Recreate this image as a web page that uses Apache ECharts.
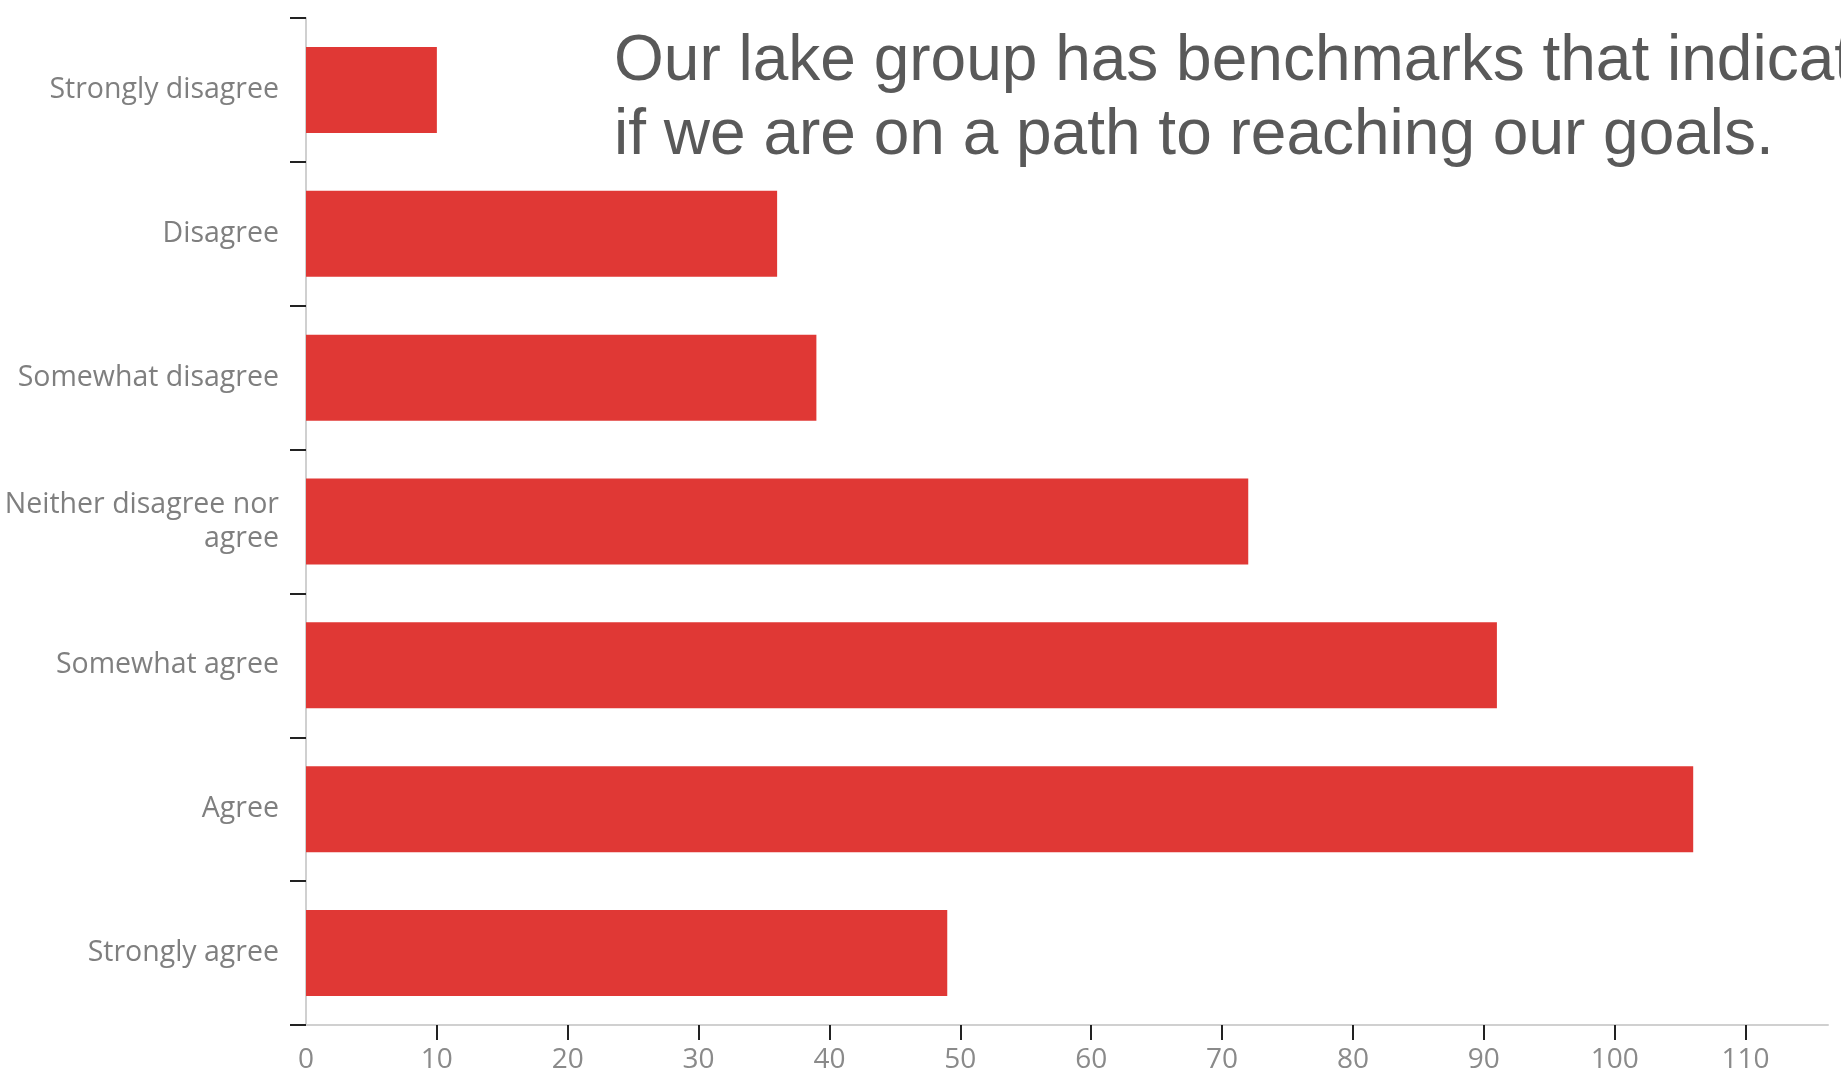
<!DOCTYPE html>
<html>
<head>
<meta charset="utf-8">
<script src="https://cdn.jsdelivr.net/npm/echarts@6/dist/echarts.min.js"></script>
<style>
html,body{margin:0;padding:0;background:#fff;}
#chart{width:1841px;height:1080px;}
</style>
</head>
<body>
<div id="chart"></div>
<script>
const titleText = "Our lake group has benchmarks that indicate\nif we are on a path to reaching our goals.";
const categories = [
  "Strongly disagree",
  "Disagree",
  "Somewhat disagree",
  "Neither disagree nor\nagree",
  "Somewhat agree",
  "Agree",
  "Strongly agree"
];
const counts = [10, 36, 39, 72, 91, 106, 49];
const xTickLabels = [0, 10, 20, 30, 40, 50, 60, 70, 80, 90, 100, 110];
const xTickMarks = [10, 20, 30, 40, 50, 60, 70, 80, 90, 100, 110];
const xMax = 116.3;

const chart = echarts.init(document.getElementById('chart'), null, {renderer: 'canvas'});
chart.setOption({
  backgroundColor: '#ffffff',
  animation: false,
  title: {
    text: titleText,
    left: 614,
    top: 25,
    padding: 0,
    textStyle: {
      fontFamily: 'Liberation Sans',
      fontSize: 64,
      fontWeight: 'normal',
      color: '#595959',
      lineHeight: 74
    }
  },
  grid: {left: 306, right: 13, top: 18, bottom: 55, containLabel: false, outerBoundsMode: 'none'},
  xAxis: {
    type: 'value',
    min: 0,
    max: xMax,
    interval: 10,
    splitLine: {show: false},
    axisLine: {show: true, lineStyle: {color: '#d0d0d0', width: 2}},
    axisTick: {show: true, customValues: xTickMarks, length: 15, lineStyle: {color: '#222', width: 2}},
    axisLabel: {
      customValues: xTickLabels,
      color: '#8a8a8a',
      fontFamily: 'Open Sans',
      fontSize: 28,
      margin: 21
    }
  },
  yAxis: {
    type: 'category',
    inverse: true,
    data: categories,
    axisLine: {show: true, lineStyle: {color: '#d0d0d0', width: 2}},
    axisTick: {show: true, length: 16, lineStyle: {color: '#222', width: 2}},
    axisLabel: {
      color: '#7f7f7f',
      fontFamily: 'Open Sans',
      fontSize: 28.5,
      lineHeight: 34,
      margin: 27,
      align: 'right'
    }
  },
  series: [{
    type: 'bar',
    data: counts,
    barWidth: 86,
    itemStyle: {color: '#e03835'}
  }]
});
</script>
</body>
</html>
